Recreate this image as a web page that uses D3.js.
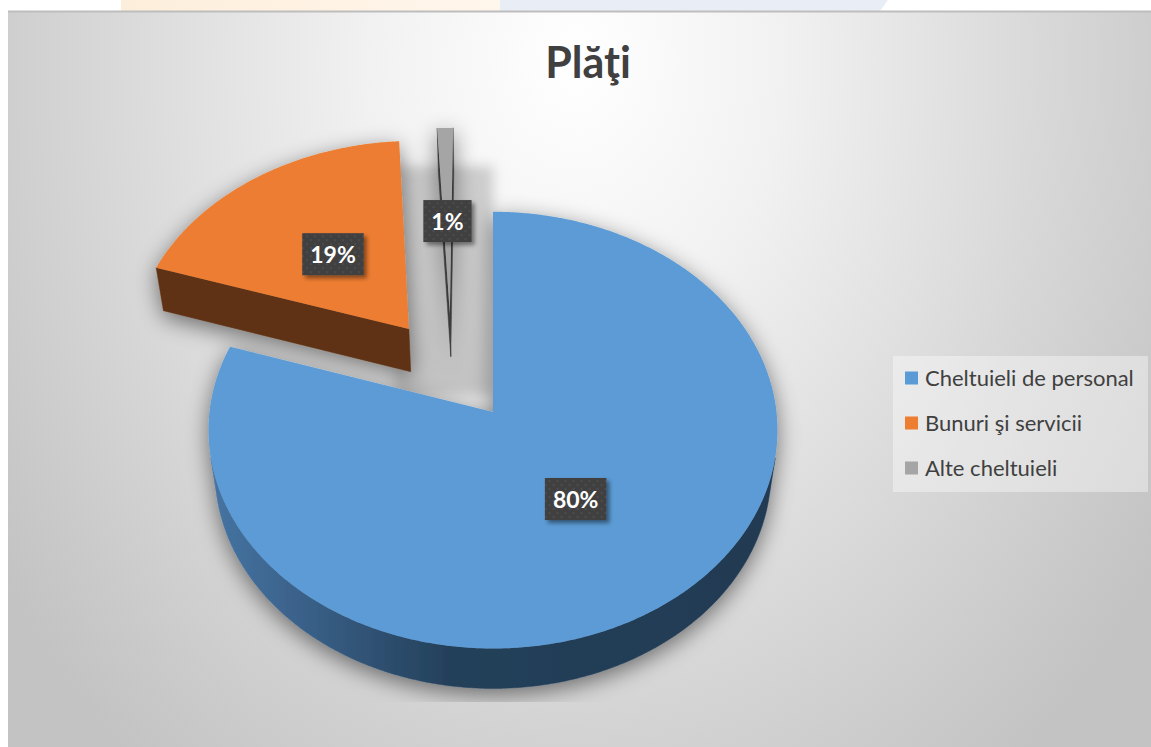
<!DOCTYPE html>
<html>
<head>
<meta charset="utf-8">
<script src="https://cdn.jsdelivr.net/npm/d3@7/dist/d3.min.js"></script>
<style>
  body { margin: 0; background: #fff; overflow: hidden; }
  svg { display: block; }
</style>
</head>
<body>
<svg id="chart" width="1151" height="747"></svg>
<script>
// data
const title = "Plăţi";
const categories = ["Cheltuieli de personal", "Bunuri şi servicii", "Alte cheltuieli"];
const values = [80, 19, 1];
const labels = ["80%", "19%", "1%"];

const topColors = ["#5b9bd5", "#ed7d31", "#a5a5a5"];
const sideColors = ["url(#blueSide)", "#5e3314", "#3b3b3b"];

// exploded slices: distance (radius units) and direction (deg, null = mid angle)
const explodeDist = [0, 0.5, 0.496];
const explodeDir = [null, null, -18.6];

// camera for the 3d pie
const cam = { cx: 493, cy: 412, F: 2200, D: 7.76, tilt: 49.9, h: 0.236 };
const s = Math.sin(cam.tilt * Math.PI / 180),
      c = Math.cos(cam.tilt * Math.PI / 180);
const camPos = [0, -cam.D * c, cam.D * s];

function proj(p) {
    let depth = cam.D + p[1] * c - p[2] * s;
    let up = p[1] * s + p[2] * c;
    return [cam.cx + cam.F * p[0] / depth, cam.cy - cam.F * up / depth];
}

const svg = d3.select("#chart");
const defs = svg.append("defs");

// background gradient
let bg = defs.append("radialGradient").attr("id", "bg")
    .attr("gradientUnits", "userSpaceOnUse")
    .attr("cx", 0).attr("cy", 0).attr("r", 1)
    .attr("gradientTransform", "translate(575,60) scale(700,900)");
[[0, "#ffffff"], [0.3, "#f1f1f1"], [0.7, "#d6d6d6"], [0.9, "#c9c9c9"], [1, "#c3c3c3"]]
    .forEach(d => bg.append("stop").attr("offset", d[0]).attr("stop-color", d[1]));

let side = defs.append("linearGradient").attr("id", "blueSide")
    .attr("gradientUnits", "userSpaceOnUse")
    .attr("x1", 210).attr("x2", 780).attr("y1", 0).attr("y2", 0);
[[0, "#4674a3"], [0.16, "#3a6189"], [0.42, "#24405a"], [1, "#213a52"]]
    .forEach(d => side.append("stop").attr("offset", d[0]).attr("stop-color", d[1]));

let sh = defs.append("filter").attr("id", "pieShadow")
    .attr("x", "-20%").attr("y", "-20%").attr("width", "140%").attr("height", "140%");
sh.append("feGaussianBlur").attr("in", "SourceAlpha").attr("stdDeviation", 11).attr("result", "b");
sh.append("feOffset").attr("in", "b").attr("dx", 0).attr("dy", 6).attr("result", "o");
sh.append("feComponentTransfer").attr("in", "o").attr("result", "t")
    .append("feFuncA").attr("type", "linear").attr("slope", 0.5);
let m = sh.append("feMerge");
m.append("feMergeNode").attr("in", "t");
m.append("feMergeNode").attr("in", "SourceGraphic");

defs.append("filter").attr("id", "soft")
    .attr("x", "-30%").attr("y", "-30%").attr("width", "160%").attr("height", "160%")
    .append("feGaussianBlur").attr("stdDeviation", 6);

let ls = defs.append("filter").attr("id", "lblShadow")
    .attr("x", "-30%").attr("y", "-30%").attr("width", "160%").attr("height", "160%");
ls.append("feDropShadow").attr("dx", 3).attr("dy", 3).attr("stdDeviation", 2)
    .attr("flood-color", "#000").attr("flood-opacity", 0.45);

let pat = defs.append("pattern").attr("id", "dots")
    .attr("patternUnits", "userSpaceOnUse").attr("width", 8).attr("height", 8);
pat.append("rect").attr("width", 8).attr("height", 8).attr("fill", "#3f3f3f");
pat.append("circle").attr("cx", 2).attr("cy", 2).attr("r", 1.3).attr("fill", "#4b4b4b");
pat.append("circle").attr("cx", 6).attr("cy", 6).attr("r", 1.3).attr("fill", "#4b4b4b");

defs.append("clipPath").attr("id", "plotClip")
    .append("rect").attr("x", 90).attr("y", 105).attr("width", 780).attr("height", 597);

// page + chart area
svg.append("rect").attr("width", 1151).attr("height", 747).attr("fill", "#fff");
let wm = defs.append("linearGradient").attr("id", "wm");
wm.append("stop").attr("offset", 0).attr("stop-color", "#fdeedb");
wm.append("stop").attr("offset", 1).attr("stop-color", "#fff6ec");
svg.append("rect").attr("x", 121).attr("y", 0).attr("width", 379).attr("height", 11).attr("fill", "url(#wm)");
svg.append("path").attr("d", "M500,0L888,0L880,11L500,11Z").attr("fill", "#e9edf5");
svg.append("rect").attr("x", 8).attr("y", 11).attr("width", 1143).attr("height", 736).attr("fill", "url(#bg)");
svg.append("line").attr("x1", 8).attr("x2", 1151).attr("y1", 11.5).attr("y2", 11.5)
    .attr("stroke", "#bdbdbd").attr("stroke-width", 2);

svg.append("text").attr("x", 588).attr("y", 78)
    .attr("text-anchor", "middle")
    .style("font-family", "Lato, 'Open Sans', sans-serif")
    .style("font-weight", "bold").style("font-size", "43px")
    .attr("fill", "#404040").text(title);

// pie geometry
const arcs = d3.pie().sort(null).value(d => d)(values);
const line = d3.line();
const step = Math.PI / 360;

const slices = arcs.map((a, i) => {
    let mid = (a.startAngle + a.endAngle) / 2;
    let dir = explodeDir[i] == null ? mid : explodeDir[i] * Math.PI / 180;
    let o = [explodeDist[i] * Math.sin(dir), explodeDist[i] * Math.cos(dir)];
    return { a, i, mid, o };
});

function rim(sl, t, z) {
    return [sl.o[0] + Math.sin(t), sl.o[1] + Math.cos(t), z];
}

function facing(n, p) {
    return n[0] * (camPos[0] - p[0]) + n[1] * (camPos[1] - p[1]) + n[2] * (camPos[2] - p[2]) > 0;
}

// far slices first
slices.sort((p, q) => (q.o[1] + Math.cos(q.mid)) - (p.o[1] + Math.cos(p.mid)));

const plot = svg.append("g").attr("clip-path", "url(#plotClip)");

// soft shadow in the gap left by the exploded small slice
let gapA = proj(rim(slices[1], slices[1].a.endAngle, 0)),
    gapB = proj([0, 0, 0]),
    gapT = proj(rim(slices[0], slices[0].mid, 0));
plot.append("rect")
    .attr("x", gapA[0] - 4).attr("y", gapT[1] + 38)
    .attr("width", gapB[0] - gapA[0] + 4).attr("height", gapB[1] - gapT[1] - 55)
    .attr("fill", "#000").attr("fill-opacity", 0.17).attr("filter", "url(#soft)");

const pie = plot.append("g").attr("filter", "url(#pieShadow)");

slices.forEach(sl => {
    let g = pie.append("g");
    let a0 = sl.a.startAngle, a1 = sl.a.endAngle, h = -cam.h;
    let ts = d3.range(a0, a1, step).concat([a1]);
    let c0 = [sl.o[0], sl.o[1], 0], c1 = [sl.o[0], sl.o[1], h];

    // radial faces
    [[a0, [-Math.cos(a0), Math.sin(a0), 0]], [a1, [Math.cos(a1), -Math.sin(a1), 0]]].forEach(f => {
        let pm = rim(sl, f[0], 0);
        pm = [(pm[0] + c0[0]) / 2, (pm[1] + c0[1]) / 2, h / 2];
        if (!facing(f[1], pm)) return;
        let pts = [c0, rim(sl, f[0], 0), rim(sl, f[0], h), c1].map(proj);
        g.append("path").attr("d", line(pts) + "Z")
            .attr("fill", sideColors[sl.i]).attr("stroke", sideColors[sl.i]).attr("stroke-width", 0.5);
    });

    // outer rim, only the runs that face the camera
    let runs = [], cur = [];
    ts.forEach(t => {
        let p = rim(sl, t, 0);
        if (facing([Math.sin(t), Math.cos(t), 0], p)) cur.push(t);
        else if (cur.length) { runs.push(cur); cur = []; }
    });
    if (cur.length) runs.push(cur);
    runs.filter(r => r.length > 1).forEach(r => {
        let pts = r.map(t => proj(rim(sl, t, 0)))
            .concat(r.slice().reverse().map(t => proj(rim(sl, t, h))));
        g.append("path").attr("d", line(pts) + "Z")
            .attr("fill", sideColors[sl.i]).attr("stroke", sideColors[sl.i]).attr("stroke-width", 0.5);
    });

    // top face
    let top = [proj(c0)].concat(ts.map(t => proj(rim(sl, t, 0))));
    g.append("path").attr("d", line(top) + "Z").attr("fill", topColors[sl.i]);
});

// data labels
const lblR = 0.48;
slices.forEach(sl => {
    let p = proj([sl.o[0] + lblR * Math.sin(sl.mid), sl.o[1] + lblR * Math.cos(sl.mid), 0]);
    let g = svg.append("g").attr("transform", `translate(${p[0]},${p[1]})`);
    let box = g.append("rect").attr("fill", "url(#dots)").attr("filter", "url(#lblShadow)");
    let t = g.append("text").attr("text-anchor", "middle").attr("y", 8.5)
        .style("font-family", "Lato, 'Open Sans', sans-serif")
        .style("font-weight", "bold").style("font-size", "23px")
        .attr("fill", "#fff").text(labels[sl.i]);
    let w = t.node().getComputedTextLength() + 16;
    box.attr("x", -w / 2).attr("y", -21).attr("width", w).attr("height", 42);
});

// legend
const lg = svg.append("g");
lg.append("rect").attr("x", 893).attr("y", 356).attr("width", 255).attr("height", 136)
    .attr("fill", "#ffffff").attr("fill-opacity", 0.38);
const rowY = d3.scalePoint().domain(categories).range([378, 468]);
categories.forEach((cat, i) => {
    let y = rowY(cat);
    lg.append("rect").attr("x", 905).attr("y", y - 6.5).attr("width", 13).attr("height", 13)
        .attr("fill", topColors[i]);
    lg.append("text").attr("x", 925).attr("y", y + 8)
        .style("font-family", "Lato, 'Open Sans', sans-serif").style("font-size", "22px")
        .attr("fill", "#404040").text(cat);
});
</script>
</body>
</html>
